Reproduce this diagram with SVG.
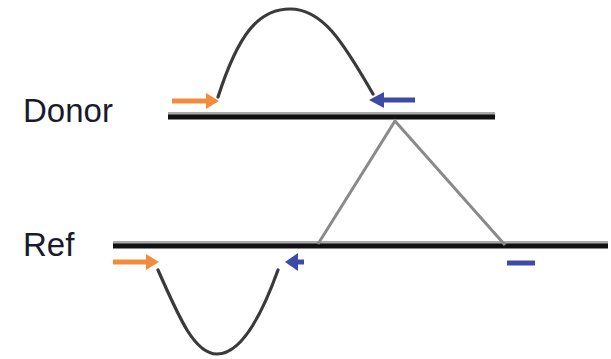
<svg xmlns="http://www.w3.org/2000/svg" width="611" height="359" viewBox="0 0 611 359">
<style>
.lbl{font-family:"Liberation Sans",Arial,sans-serif;font-size:33px;fill:#1a1a2e}
.seq{stroke:#111;stroke-width:5;fill:none}
.shadow{stroke:#aaa;stroke-width:4;fill:none}
.loop{stroke:#3a3a3a;stroke-width:3.2;fill:none;stroke-linecap:round}
.tri{stroke:#8a8a8a;stroke-width:3;fill:none}
.or{stroke:#f28c3c;stroke-width:5;fill:none}
.bl{stroke:#3c4aa8;stroke-width:5;fill:none}
.orh{fill:#f28c3c}
.blh{fill:#3c4aa8}
</style>
<rect width="611" height="359" fill="#fff"/>
<g id="donor">
<text class="lbl" x="23" y="122">Donor</text>
<line class="shadow" x1="168" y1="114" x2="495" y2="114"/>
<line class="seq" x1="168" y1="117" x2="495" y2="117"/>
</g>
<g id="ref">
<text class="lbl" x="23" y="256">Ref</text>
<line class="shadow" x1="113" y1="243" x2="608" y2="243"/>
<line class="seq" x1="113" y1="246" x2="608" y2="246"/>
</g>
<g id="connectors">
<path class="loop" d="M218,97 C238,35 258,9 290,9 C322,9 342,40 373,94"/>
<path class="loop" d="M158,270 C180,320 195,354 217,354 C240,354 260,320 278,270"/>
<polyline class="tri" points="318,244 395,121 505,245"/>
</g>
<g id="primers">
<line class="or" x1="172" y1="101" x2="208" y2="101"/>
<polygon class="orh" points="206,93 219,101 206,109"/>
<line class="bl" x1="382" y1="100" x2="415" y2="100"/>
<polygon class="blh" points="384,92 369,100 384,108"/>
<line class="or" x1="113" y1="262" x2="148" y2="262"/>
<polygon class="orh" points="146,254 159,262 146,270"/>
<line class="bl" x1="296" y1="262" x2="304" y2="262"/>
<polygon class="blh" points="298,253 285,262 298,271"/>
<line class="bl" x1="507" y1="263" x2="535" y2="263"/>
</g>
</svg>
